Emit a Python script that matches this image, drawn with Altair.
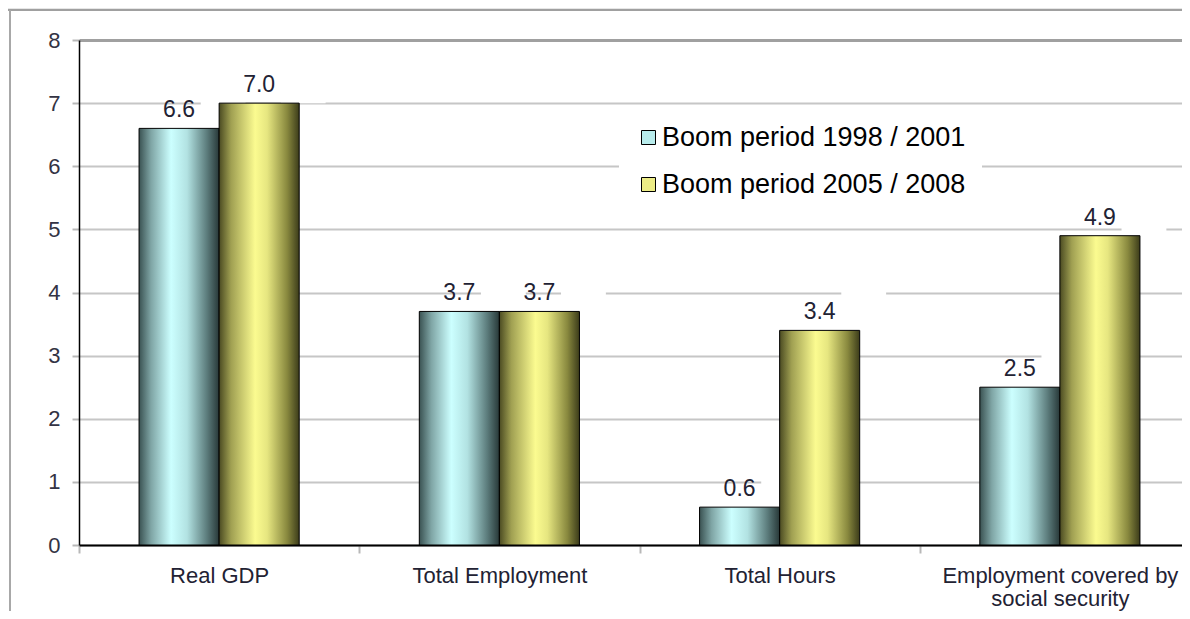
import altair as alt
import pandas as pd

categories = ["Real GDP", "Total Employment", "Total Hours", "Employment covered by social security"]
series = ["Boom period 1998 / 2001", "Boom period 2005 / 2008"]
boom_1998_2001 = [6.6, 3.7, 0.6, 2.5]
boom_2005_2008 = [7.0, 3.7, 3.4, 4.9]
y_ticks = [0, 1, 2, 3, 4, 5, 6, 7, 8]

rows = []
for c, a, b in zip(categories, boom_1998_2001, boom_2005_2008):
    rows.append({"cat": c, "series": series[0], "value": a})
    rows.append({"cat": c, "series": series[1], "value": b})
df = pd.DataFrame(rows)

W, H = 1103, 505
FONT = "Liberation Sans"

cyan_grad = alt.LinearGradient(
    gradient="linear", x1=0, x2=1, y1=0, y2=0,
    stops=[
        alt.GradientStop(offset=0, color="#3a5252"),
        alt.GradientStop(offset=0.15, color="#7fa5a5"),
        alt.GradientStop(offset=0.4, color="#ccffff"),
        alt.GradientStop(offset=0.6, color="#b2e2e2"),
        alt.GradientStop(offset=0.85, color="#5b7b7b"),
        alt.GradientStop(offset=1, color="#283838"),
    ],
)
yellow_grad = alt.LinearGradient(
    gradient="linear", x1=0, x2=1, y1=0, y2=0,
    stops=[
        alt.GradientStop(offset=0, color="#4b4b22"),
        alt.GradientStop(offset=0.15, color="#a0a052"),
        alt.GradientStop(offset=0.45, color="#fbfb90"),
        alt.GradientStop(offset=0.6, color="#e6e680"),
        alt.GradientStop(offset=0.85, color="#88883e"),
        alt.GradientStop(offset=1, color="#3c3c1a"),
    ],
)

label_expr = ("datum.label == 'Employment covered by social security' ? "
              "['Employment covered by', 'social security'] : datum.label")

x_enc = alt.X(
    "cat:N", sort=categories, title=None,
    scale=alt.Scale(range=[0, 1121], paddingInner=0, paddingOuter=0),
    axis=alt.Axis(
        labelAngle=0, labelFont=FONT, labelFontSize=22, labelColor="#222233",
        labelPadding=12, labelLineHeight=23, labelExpr=label_expr, labelLimit=600,
        tickBand="extent", tickColor="#b8b8b8", tickWidth=2, tickSize=8,
        domainColor="#000000", domainWidth=2, grid=False,
    ),
)
xo_enc = alt.XOffset("series:N", sort=series, scale=alt.Scale(paddingInner=0, paddingOuter=0.75))
y_enc = alt.Y(
    "value:Q", title=None,
    scale=alt.Scale(domain=[0, 8], nice=False),
    axis=alt.Axis(
        values=y_ticks, format="d", labelFont=FONT, labelFontSize=22, labelColor="#333344",
        labelPadding=12, tickColor="#b8b8b8", tickWidth=2, tickSize=7,
        domainColor="#000000", domainWidth=1.5,
        grid=True,
        gridColor=alt.condition("datum.value == 8", alt.value("#a0a0a0"), alt.value("#c6c6c6")),
        gridWidth=alt.condition("datum.value == 8", alt.value(3), alt.value(2)),
    ),
)

base = alt.Chart(df).encode(x=x_enc, xOffset=xo_enc, y=y_enc)

white_boxes = base.transform_calculate(
    lo="datum.value", hi="datum.value + 0.66"
).mark_bar(color="white", width=alt.RelativeBandSize(0.56)).encode(
    y=alt.Y("lo:Q"), y2="hi:Q"
)

bars_a = base.transform_filter(alt.datum.series == series[0]).mark_bar(
    color=cyan_grad, stroke="#000000", strokeWidth=1
)
bars_b = base.transform_filter(alt.datum.series == series[1]).mark_bar(
    color=yellow_grad, stroke="#000000", strokeWidth=1
)

labels = base.mark_text(
    font=FONT, fontSize=23, color="#222233", baseline="middle", dy=-18
).encode(text=alt.Text("value:Q", format=".1f"))

legend_layer = base.mark_point(shape="square", filled=True, opacity=0).encode(
    color=alt.Color(
        "series:N", sort=series,
        scale=alt.Scale(domain=series, range=["#b8ecec", "#ecec86"]),
        legend=alt.Legend(
            title=None, orient="none", legendX=540, legendY=68,
            fillColor="white", padding=16, rowPadding=19,
            labelFont=FONT, labelFontSize=27, labelColor="#000000", labelOffset=0,
            symbolType="square", symbolSize=196, symbolOpacity=1,
            symbolStrokeColor="#000000", symbolStrokeWidth=1,
            labelLimit=500,
        ),
    )
)

one = pd.DataFrame({"a": [0]})
top_band = alt.Chart(one).mark_rect(color="#e6e6e6").encode(
    x=alt.value(-71), x2=alt.value(W + 10), y=alt.value(-32), y2=alt.value(-31)
)
top_line = alt.Chart(one).mark_rule(color="#a0a0a0", strokeWidth=2).encode(
    x=alt.value(-71), x2=alt.value(W + 10), y=alt.value(-30)
)
left_line = alt.Chart(one).mark_rule(color="#a8a8a8", strokeWidth=2).encode(
    x=alt.value(-69), y=alt.value(-30), y2=alt.value(H + 80)
)

chart = alt.layer(
    top_band, top_line, left_line, white_boxes, bars_a, bars_b, labels, legend_layer
).properties(
    width=W, height=H,
    autosize=alt.AutoSizeParams(type="none"),
    padding={"left": 71, "top": 32, "right": 0, "bottom": 66},
    background="white",
).configure_view(stroke=None)

chart.save("out.html", embed_options={"renderer": "svg", "actions": False})
